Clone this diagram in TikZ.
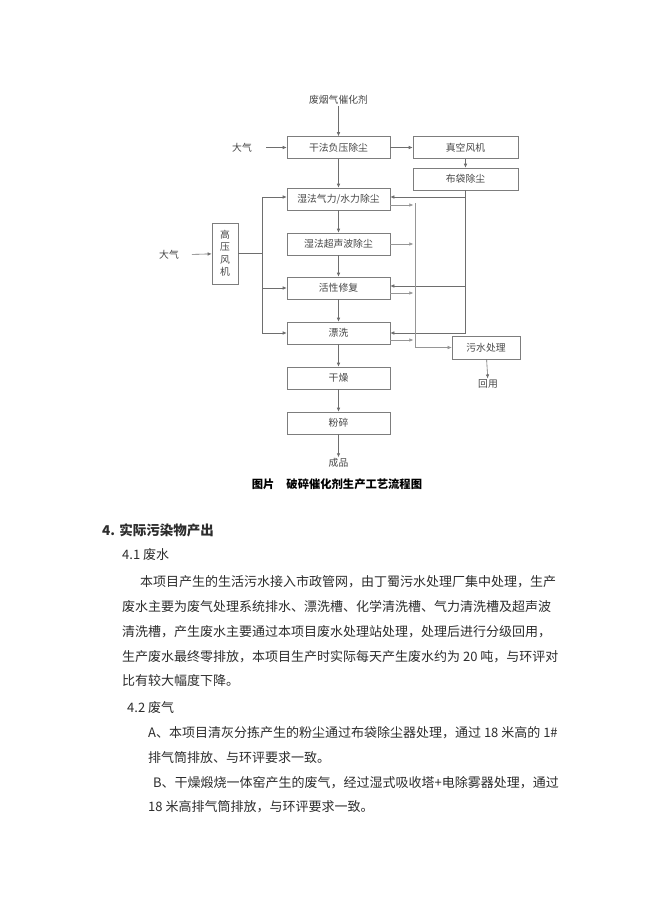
\documentclass[tikz,border=0pt]{standalone}
\usepackage{fontspec}
\setmainfont{Noto Sans CJK SC}
\usetikzlibrary{arrows.meta,calc}
\definecolor{boxc}{RGB}{125,125,125}
\definecolor{linec}{RGB}{110,110,110}
\definecolor{outc}{RGB}{150,150,150}
\definecolor{ftc}{RGB}{70,70,70}
\definecolor{bodyc}{RGB}{45,45,45}
\begin{document}
\begin{tikzpicture}[x=1pt,y=-1pt,
  box/.style={draw=boxc, line width=0.6pt, minimum width=103pt, minimum height=22pt, inner sep=0pt, font=\fontsize{9.8}{11}\selectfont, text=ftc},
  lbl/.style={font=\fontsize{9.8}{11}\selectfont, text=ftc, inner sep=1pt},
  arr/.style={draw=linec, line width=0.6pt, -{Latex[length=4pt,width=3.5pt]}},
  ln/.style={draw=linec, line width=0.6pt},
  outarr/.style={draw=outc, line width=0.5pt, -{Latex[length=4pt,width=3.5pt]}},
  body/.style={anchor=west, inner sep=0pt, font=\fontsize{13}{15}\selectfont, text=bodyc},
]
\path[fill=white] (0,0) rectangle (650,919);
\useasboundingbox (0,0) rectangle (650,919);

% flowchart nodes
\node[lbl] (src) at (338.5,100) {废烟气催化剂};
\node[box] (dry) at (338.5,147.5) {干法负压除尘};
\node[box, minimum width=105pt] (vac) at (465.5,147.5) {真空风机};
\node[box, minimum width=105pt] (bag) at (465.5,179) {布袋除尘};
\node[box] (wet) at (338.5,199) {湿法气力/水力除尘};
\node[box] (ultra) at (338.5,244) {湿法超声波除尘};
\node[box] (act) at (338.5,288) {活性修复};
\node[box] (rinse) at (338.5,333) {漂洗};
\node[box] (drying) at (338.5,378) {干燥};
\node[box] (crush) at (338.5,423) {粉碎};
\node[lbl] (prod) at (338.5,463) {成品};
\node[lbl] (air1) at (242,147.5) {大气};
\node[lbl] (air2) at (169,255) {大气};
\node[box, minimum width=26pt, minimum height=61pt, align=center] (fan) at (225,253.5) {高\\[1.5pt]压\\[1.5pt]风\\[1.5pt]机};
\node[box, minimum width=68pt, minimum height=23pt] (sew) at (486,347.5) {污水处理};
\node[lbl] (reuse) at (488,384) {回用};

% main column
\draw[arr] (src) -- (dry);
\draw[arr, shorten <=13pt] (air1) -- (dry);
\draw[arr] (dry) -- (vac);
\draw[arr] (vac) -- (bag);
\draw[arr] (dry) -- (wet);
\draw[arr] (wet) -- (ultra);
\draw[arr] (ultra) -- (act);
\draw[arr] (act) -- (rinse);
\draw[arr] (rinse) -- (drying);
\draw[arr] (drying) -- (crush);
\draw[arr] (crush) -- (prod);
\draw[arr, shorten <=12pt] (air2) -- (fan);
\draw[arr] (sew) -- (reuse);

% right return bus from bag filter
\draw[arr] (bag.south) |- ([yshift=2pt]wet.east);
\draw[arr] (bag.south |- act.east) ++(0,-2) -- ([yshift=2pt]act.east);
\draw[arr] (bag.south) |- (rinse.east);

% left air bus from fan
\coordinate (lb) at ([xshift=24pt]fan.east);
\draw[ln] (fan.east) -- (lb);
\draw[arr] (lb) |- ([yshift=2pt]wet.west);
\draw[arr] (lb) |- (act.west);
\draw[arr] (lb) |- (rinse.west);

% drain column to sewage
\coordinate (dtop) at (415,203);
\draw[outarr] (dtop) |- (sew.west);
\draw[outarr] ([yshift=-6pt]wet.east) -- ++(23,0);
\draw[outarr] (ultra.east) -- ++(23,0);
\draw[outarr] ([yshift=-5pt]act.east) -- ++(23,0);
\draw[outarr] ([yshift=-7pt]rinse.east) -- ++(23,0);

% caption
\node[font=\fontsize{11.3}{13}\selectfont\bfseries, text=black] (cap) at (337,484) {图片\hspace{12pt}破碎催化剂生产工艺流程图};

% body text
\node[body, font=\fontsize{13.5}{15}\selectfont\bfseries] (h4) at (102,530) {4. 实际污染物产出};
\node[body] (h41) at (122,555) {4.1 废水};
\node[body] (p1) at (140,582) {本项目产生的生活污水接入市政管网，由丁蜀污水处理厂集中处理，生产};
\node[body] (p2) at (122,607) {废水主要为废气处理系统排水、漂洗槽、化学清洗槽、气力清洗槽及超声波};
\node[body] (p3) at (122,632) {清洗槽，产生废水主要通过本项目废水处理站处理，处理后进行分级回用，};
\node[body] (p4) at (122,657) {生产废水最终零排放，本项目生产时实际每天产生废水约为 20 吨，与环评对};
\node[body] (p5) at (122,681) {比有较大幅度下降。};
\node[body] (h42) at (127,708) {4.2 废气};
\node[body] (a1) at (148,733) {A、本项目清灰分拣产生的粉尘通过布袋除尘器处理，通过 18 米高的 1\#};
\node[body] (a2) at (148,758) {排气筒排放、与环评要求一致。};
\node[body] (b1) at (153,783) {B、干燥煅烧一体窑产生的废气，经过湿式吸收塔+电除雾器处理，通过};
\node[body] (b2) at (148,807) {18 米高排气筒排放，与环评要求一致。};
\end{tikzpicture}
\end{document}
